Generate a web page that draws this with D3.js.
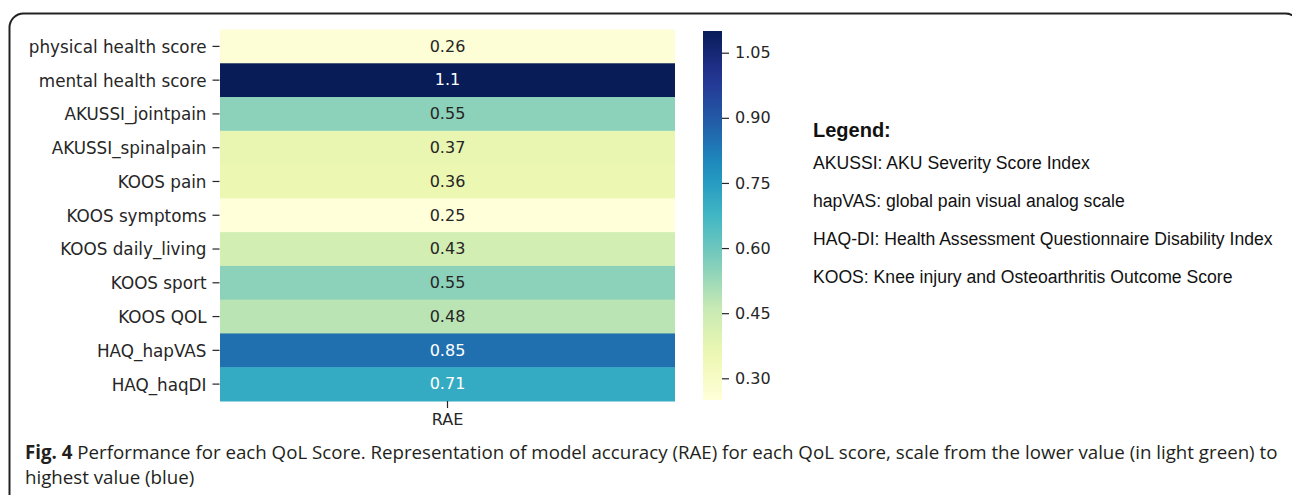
<!DOCTYPE html>
<html>
<head>
<meta charset="utf-8">
<script src="https://cdn.jsdelivr.net/npm/d3@7"></script>
<style>
  body { margin: 0; background: #fff; }
  svg { display: block; }
</style>
</head>
<body>
<div id="chart"></div>
<script>
const rowLabels = ["physical health score", "mental health score", "AKUSSI_jointpain", "AKUSSI_spinalpain",
  "KOOS pain", "KOOS symptoms", "KOOS daily_living", "KOOS sport", "KOOS QOL", "HAQ_hapVAS", "HAQ_haqDI"];
const colLabels = ["RAE"];
const raeValues = [0.26, 1.1, 0.55, 0.37, 0.36, 0.25, 0.43, 0.55, 0.48, 0.85, 0.71];
const cbarTicks = [0.30, 0.45, 0.60, 0.75, 0.90, 1.05];
const legendTitle = "Legend:";
const legendLines = [
  "AKUSSI: AKU Severity Score Index",
  "hapVAS: global pain visual analog scale",
  "HAQ-DI: Health Assessment Questionnaire Disability Index",
  "KOOS: Knee injury and Osteoarthritis Outcome Score"
];
const captionBold = "Fig. 4";
const captionLine1 = " Performance for each QoL Score. Representation of model accuracy (RAE) for each QoL score, scale from the lower value (in light green) to";
const captionLine2 = "highest value (blue)";

// matplotlib YlGnBu stops
const ylgnbu = ["#ffffd9", "#edf8b1", "#c7e9b4", "#7fcdbb", "#41b6c4", "#1d91c0", "#225ea8", "#253494", "#081d58"];

const W = 1292, H = 495;
const svg = d3.select("#chart").append("svg")
  .attr("width", W)
  .attr("height", H);

// outer frame (figure panel border)
svg.append("rect")
  .attr("x", 9.5).attr("y", 13.5)
  .attr("width", 1290).attr("height", 495)
  .attr("rx", 14)
  .attr("fill", "none")
  .attr("stroke", "#222")
  .attr("stroke-width", 2);

const hm = { left: 220, right: 675, top: 29.5, bottom: 401 };

const extent = d3.extent(raeValues);
const color = d3.scaleLinear()
  .domain(d3.range(ylgnbu.length).map(i => extent[0] + i * (extent[1] - extent[0]) / (ylgnbu.length - 1)))
  .range(ylgnbu)
  .interpolate(d3.interpolateRgb);

const x = d3.scaleBand().domain(colLabels).range([hm.left, hm.right]);
const y = d3.scaleBand().domain(rowLabels).range([hm.top, hm.bottom]);

const cells = rowLabels.map((r, i) => ({ row: r, col: "RAE", value: raeValues[i] }));

function luminance(c) {
  const rgb = d3.rgb(c);
  const f = v => { v /= 255; return v <= 0.03928 ? v / 12.92 : Math.pow((v + 0.055) / 1.055, 2.4); };
  return 0.2126 * f(rgb.r) + 0.7152 * f(rgb.g) + 0.0722 * f(rgb.b);
}

svg.selectAll(".cell")
  .data(cells)
  .join("rect")
  .attr("class", "cell")
  .attr("x", d => x(d.col))
  .attr("y", d => y(d.row))
  .attr("width", x.bandwidth())
  .attr("height", y.bandwidth() + 0.5)
  .attr("fill", d => color(d.value));

svg.selectAll(".annot")
  .data(cells)
  .join("text")
  .attr("class", "annot")
  .attr("x", d => x(d.col) + x.bandwidth() / 2)
  .attr("y", d => y(d.row) + y.bandwidth() / 2)
  .attr("dy", "0.33em")
  .attr("text-anchor", "middle")
  .attr("font-family", "DejaVu Sans")
  .attr("font-size", 16)
  .attr("fill", d => luminance(color(d.value)) > 0.408 ? "#262626" : "#ffffff")
  .text(d => d.value);

// y axis
const yAxis = svg.append("g")
  .attr("transform", `translate(${hm.left - 0.5},0)`)
  .call(d3.axisLeft(y).tickSize(7).tickPadding(6));
yAxis.select(".domain").remove();
yAxis.selectAll("line").attr("stroke", "#262626").attr("stroke-width", 1.2);
yAxis.selectAll("text")
  .attr("dy", "0.38em")
  .attr("font-family", "DejaVu Sans")
  .attr("font-size", 16.8)
  .attr("fill", "#262626");

// x axis
const xAxis = svg.append("g")
  .attr("transform", `translate(0,${hm.bottom})`)
  .call(d3.axisBottom(x).tickSize(7).tickPadding(6));
xAxis.select(".domain").remove();
xAxis.selectAll("line").attr("stroke", "#262626").attr("stroke-width", 1.2);
xAxis.selectAll("text")
  .attr("font-family", "DejaVu Sans")
  .attr("font-size", 16)
  .attr("fill", "#262626");

// colorbar
const cb = { left: 703, right: 722, top: 31, bottom: 400 };
const cy = d3.scaleLinear().domain(extent).range([cb.bottom, cb.top]);

const grad = svg.append("defs").append("linearGradient")
  .attr("id", "cbgrad")
  .attr("x1", 0).attr("y1", 1).attr("x2", 0).attr("y2", 0);
grad.selectAll("stop")
  .data(d3.range(0, 1.0001, 0.05))
  .join("stop")
  .attr("offset", t => t)
  .attr("stop-color", t => color(extent[0] + t * (extent[1] - extent[0])));

svg.append("rect")
  .attr("x", cb.left).attr("y", cb.top)
  .attr("width", cb.right - cb.left)
  .attr("height", cb.bottom - cb.top)
  .attr("fill", "url(#cbgrad)");

const cAxis = svg.append("g")
  .attr("transform", `translate(${cb.right},0)`)
  .call(d3.axisRight(cy).tickValues(cbarTicks).tickFormat(d3.format(".2f")).tickSize(7).tickPadding(6));
cAxis.select(".domain").remove();
cAxis.selectAll("line").attr("stroke", "#262626").attr("stroke-width", 1.2);
cAxis.selectAll("text")
  .attr("font-family", "DejaVu Sans")
  .attr("font-size", 16)
  .attr("fill", "#262626");

// legend text block
const leg = svg.append("g").attr("font-family", "Liberation Sans, Arial, sans-serif").attr("fill", "#111");
leg.append("text")
  .attr("x", 813).attr("y", 137)
  .attr("font-size", 20)
  .attr("font-weight", "bold")
  .text(legendTitle);
leg.selectAll(".legline")
  .data(legendLines)
  .join("text")
  .attr("class", "legline")
  .attr("x", 813)
  .attr("y", (d, i) => 169 + i * 38)
  .attr("font-size", 17.6)
  .text(d => d);

// caption - font size fitted so that the first line spans the frame
const capWidth = 1253;
const cap1 = svg.append("text")
  .attr("x", 25).attr("y", 459)
  .attr("font-family", "Open Sans, sans-serif")
  .attr("font-size", 20)
  .attr("fill", "#231f20");
cap1.append("tspan").attr("font-weight", "bold").text(captionBold);
cap1.append("tspan").text(captionLine1);
const natural = cap1.node().getComputedTextLength();
const capSize = Math.min(20, 20 * capWidth / natural);
cap1.attr("font-size", capSize);

svg.append("text")
  .attr("x", 25).attr("y", 484)
  .attr("font-family", "Open Sans, sans-serif")
  .attr("font-size", capSize)
  .attr("fill", "#231f20")
  .text(captionLine2);
</script>
</body>
</html>
